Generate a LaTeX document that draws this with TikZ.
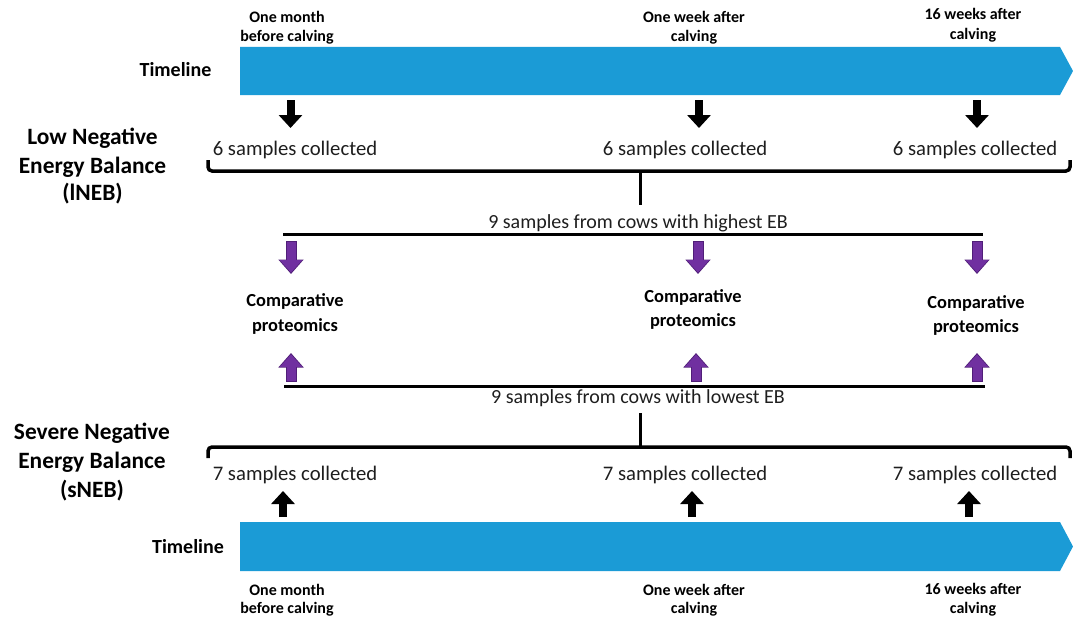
\documentclass[tikz,border=0pt]{standalone}
\usepackage{fontspec}
\setmainfont{Carlito}
\usetikzlibrary{arrows.meta}
\definecolor{tlblue}{RGB}{27,155,214}
\definecolor{purp}{RGB}{112,48,160}
\definecolor{purpdark}{RGB}{80,30,120}
\definecolor{txt}{RGB}{30,30,30}
\begin{document}
\begin{tikzpicture}[x=1pt,y=-1pt,
 lbl/.style={font=\bfseries\fontsize{16}{20}\selectfont, anchor=base, inner sep=0},
 side/.style={font=\bfseries\fontsize{23.4}{28}\selectfont, anchor=base, inner sep=0},
 tlname/.style={font=\bfseries\fontsize{20}{24}\selectfont, anchor=base, inner sep=0},
 samp/.style={font=\fontsize{20.7}{24}\selectfont, text=txt, anchor=base, inner sep=0},
 grp/.style={font=\fontsize{20}{24}\selectfont, text=txt, anchor=base, inner sep=0},
 comp/.style={font=\bfseries\fontsize{18.4}{22}\selectfont, anchor=base, inner sep=0},
 blkarrow/.style={line width=8pt, -{Triangle[width=23pt,length=13pt]}, black},
 purpout/.style={line width=11pt, -{Triangle[width=24.5pt,length=14.5pt]}, purpdark, shorten <=-0.8pt},
 purparrow/.style={line width=9pt, -{Triangle[width=21.5pt,length=12.5pt]}, purp, shorten >=1.4pt},
 brace/.style={line width=3.5pt, rounded corners=4pt},
 ebline/.style={line width=3pt}
]
\useasboundingbox (0,0) rectangle (1073,618);
% timelines
\fill[tlblue] (240,47) -- (1060,47) -- (1073,71) -- (1060,95) -- (240,95) -- cycle;
\fill[tlblue] (240,522) -- (1060,522) -- (1073,546.5) -- (1060,571) -- (240,571) -- cycle;
\node[tlname] (tlA) at (175.5,77) {Timeline};
\node[tlname] (tlB) at (188,553) {Timeline};
% top labels
\node[lbl] (ta1) at (287,23) {One month};
\node[lbl] (tb1) at (287,42) {before calving};
\node[lbl] (ta2) at (694,23) {One week after};
\node[lbl] (tb2) at (694,42) {calving};
\node[lbl] (ta3) at (973,20) {16 weeks after};
\node[lbl] (tb3) at (973,40) {calving};
% bottom labels
\node[lbl] (ba1) at (287,595) {One month};
\node[lbl] (bb1) at (287,613) {before calving};
\node[lbl] (ba2) at (694,595) {One week after};
\node[lbl] (bb2) at (694,613) {calving};
\node[lbl] (ba3) at (973,594) {16 weeks after};
\node[lbl] (bb3) at (973,613) {calving};
% side labels
\node[side] (la) at (92.5,144) {Low Negative};
\node[side] (lb) at (92.5,173) {Energy Balance};
\node[side] (lc) at (92.5,200) {(lNEB)};
\node[side] (sa) at (92,439) {Severe Negative};
\node[side] (sb) at (92,468) {Energy Balance};
\node[side] (sc) at (92,497) {(sNEB)};
% samples
\node[samp] (s1) at (295,155) {6 samples collected};
\node[samp] (s2) at (685,155) {6 samples collected};
\node[samp] (s3) at (975,155) {6 samples collected};
\node[samp] (u1) at (295,480) {7 samples collected};
\node[samp] (u2) at (685,480) {7 samples collected};
\node[samp] (u3) at (975,480) {7 samples collected};
% groups
\node[grp] (hi) at (638,228) {9 samples from cows with highest EB};
\node[grp] (lo) at (638,403) {9 samples from cows with lowest EB};
% comparative proteomics
\node[comp] (c1a) at (295,306) {Comparative};
\node[comp] (c1b) at (295,331) {proteomics};
\node[comp] (c2a) at (693,302) {Comparative};
\node[comp] (c2b) at (693,326) {proteomics};
\node[comp] (c3a) at (976,308) {Comparative};
\node[comp] (c3b) at (976,332) {proteomics};
% braces
\draw[brace] (208,160) -- (208,171) -- (1070,171) -- (1070,160);
\draw[brace] (208,458) -- (208,447) -- (1070,447) -- (1070,458);
\coordinate (bt) at (640,171);
\coordinate (btend) at (640,205);
\coordinate (bb) at (640,447);
\coordinate (bbend) at (640,413);
\draw[line width=3pt] (bt) -- (btend);
\draw[line width=3pt] (bb) -- (bbend);
% EB lines
\coordinate (hl) at (283,234);
\coordinate (hr) at (983,234);
\coordinate (ll) at (284,386);
\coordinate (lr) at (985,386);
\draw[ebline] (hl) -- (hr);
\draw[ebline] (ll) -- (lr);
% black arrows top
\coordinate (a1s) at (290.5,100); \coordinate (a1e) at (290.5,128);
\coordinate (a2s) at (699,100);   \coordinate (a2e) at (699,128);
\coordinate (a3s) at (977,100);   \coordinate (a3e) at (977,128);
\draw[blkarrow] (a1s) -- (a1e);
\draw[blkarrow] (a2s) -- (a2e);
\draw[blkarrow] (a3s) -- (a3e);
% black arrows bottom
\coordinate (b1s) at (283,517); \coordinate (b1e) at (283,491);
\coordinate (b2s) at (692,517); \coordinate (b2e) at (692,491);
\coordinate (b3s) at (969,517); \coordinate (b3e) at (969,491);
\draw[blkarrow] (b1s) -- (b1e);
\draw[blkarrow] (b2s) -- (b2e);
\draw[blkarrow] (b3s) -- (b3e);
% purple arrows
\coordinate (p1s) at (291,242); \coordinate (p1e) at (291,274);
\coordinate (p2s) at (698,242); \coordinate (p2e) at (698,274);
\coordinate (p3s) at (977,242); \coordinate (p3e) at (977,274);
\coordinate (q1s) at (291,381); \coordinate (q1e) at (291,353);
\coordinate (q2s) at (696,381); \coordinate (q2e) at (696,353);
\coordinate (q3s) at (977,381); \coordinate (q3e) at (977,353);
\foreach \s/\e in {p1s/p1e,p2s/p2e,p3s/p3e,q1s/q1e,q2s/q2e,q3s/q3e}{
  \draw[purpout] (\s) -- (\e);
  \draw[purparrow] (\s) -- (\e);
}
\end{tikzpicture}
\end{document}
